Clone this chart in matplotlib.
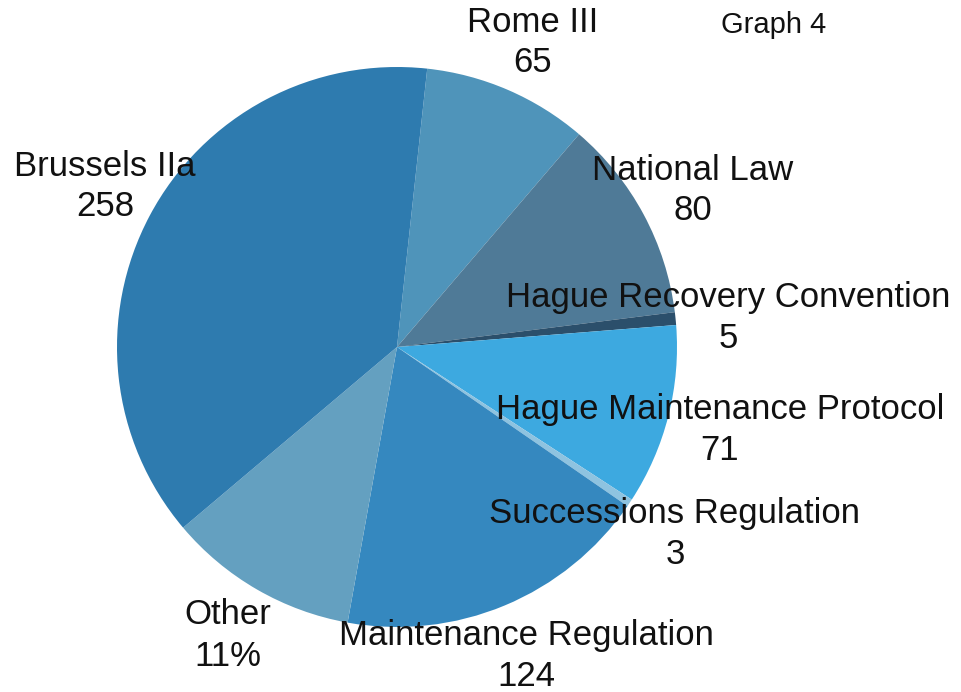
import matplotlib; matplotlib.use('Agg')
import matplotlib.pyplot as plt

# Slices, clockwise from just right of the top
labels = ['Rome III', 'National Law', 'Hague Recovery Convention',
          'Hague Maintenance Protocol', 'Successions Regulation',
          'Maintenance Regulation', 'Other', 'Brussels IIa']
values = [65, 80, 5, 71, 3, 124, 75, 258]
value_text = ['65', '80', '5', '71', '3', '124', '11%', '258']
colors = ['#4f94ba', '#4f7a97', '#2b4f6b', '#3da9e0', '#8ec3e0',
          '#3588bf', '#64a0c0', '#2e7baf']

# label anchor in pixels (centre of the first line, from top-left)
label_pos = [(533, 22), (693, 170), (728, 297), (720, 410),
             (675, 514), (526, 636), (228, 615), (105, 166)]

W, H = 962, 692
fig = plt.figure(figsize=(W / 100, H / 100), dpi=100)
fig.set_facecolor('white')

cx, cy, r = 397, 347, 280
ax = fig.add_axes([(cx - r) / W, (H - cy - r) / H, 2 * r / W, 2 * r / H])
ax.pie(values, colors=colors, startangle=83.8, counterclock=False,
       wedgeprops=dict(linewidth=0))
ax.set_xlim(-1, 1)
ax.set_ylim(-1, 1)
ax.axis('off')

font = ['Liberation Sans', 'DejaVu Sans']
for name, val, (x, y) in zip(labels, value_text, label_pos):
    fig.text(x / W, 1 - y / H, name, ha='center', va='center',
             fontsize=25, family=font, color='#111111')
    fig.text(x / W, 1 - (y + 41) / H, val, ha='center', va='center',
             fontsize=25, family=font, color='#111111')

fig.text(774 / W, 1 - 25 / H, 'Graph 4', ha='center', va='center',
         fontsize=21, family=font, color='#111111')

fig.savefig('out.png', dpi=100)
plt.close(fig)
